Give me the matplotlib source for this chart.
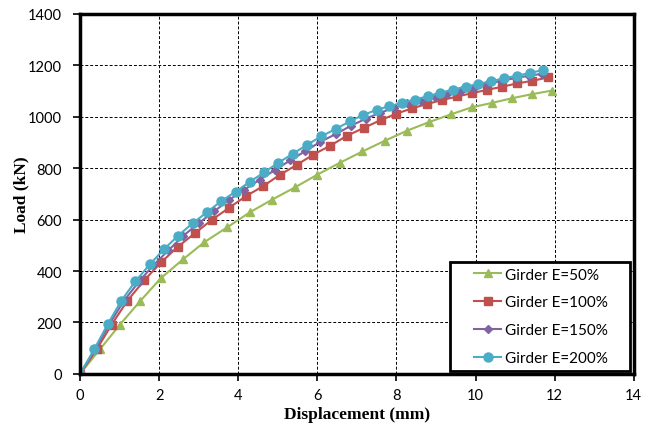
import matplotlib
matplotlib.use('Agg')
import matplotlib.pyplot as plt
import matplotlib.patches as patches

# Girder E=50%
x50 = [0, 0.5, 1.01, 1.52, 2.04, 2.6, 3.14, 3.72, 4.30, 4.86, 5.43, 6.0, 6.57, 7.14,
       7.71, 8.27, 8.82, 9.37, 9.91, 10.42, 10.92, 11.43, 11.94]
y50 = [0, 95, 192, 283, 372, 445, 512, 570, 629, 678, 725, 775, 821, 865,
       907, 946, 979, 1009, 1037, 1054, 1072, 1088, 1102]

# Girder E=100%
x100 = [0, 0.42, 0.8, 1.2, 1.63, 2.05, 2.47, 2.91, 3.34, 3.77, 4.20, 4.63, 5.05, 5.48,
        5.90, 6.33, 6.76, 7.18, 7.6, 8.0, 8.40, 8.78, 9.16, 9.54, 9.92, 10.30, 10.68,
        11.06, 11.44, 11.84]
y100 = [0, 95, 192, 285, 365, 434, 494, 548, 600, 646, 692, 730, 774, 813,
        853, 888, 927, 957, 987, 1012, 1033, 1050, 1065, 1079, 1092, 1105, 1117,
        1130, 1140, 1153]

# Girder E=150%
x150 = [0, 0.38, 0.74, 1.1, 1.48, 1.85, 2.23, 2.61, 3.0, 3.4, 3.77, 4.15, 4.55, 4.93,
        5.31, 5.69, 6.07, 6.47, 6.85, 7.22, 7.58, 7.94, 8.28, 8.62, 8.97, 9.29, 9.63,
        9.95, 10.29, 10.65, 11.02, 11.36, 11.68]
y150 = [0, 96, 193, 282, 357, 422, 480, 537, 586, 633, 677, 716, 756, 793,
        830, 866, 902, 933, 965, 992, 1015, 1035, 1052, 1062, 1078, 1089, 1101,
        1113, 1126, 1140, 1151, 1160, 1167]

# Girder E=200%
x200 = [0, 0.36, 0.70, 1.04, 1.40, 1.77, 2.12, 2.48, 2.85, 3.21, 3.57, 3.94, 4.30, 4.66,
        5.01, 5.38, 5.73, 6.1, 6.47, 6.82, 7.16, 7.50, 7.82, 8.14, 8.47, 8.79, 9.10,
        9.42, 9.75, 10.07, 10.39, 10.72, 11.06, 11.39, 11.71]
y200 = [0, 96, 193, 284, 360, 427, 484, 538, 586, 629, 672, 709, 748, 784,
        821, 856, 890, 924, 953, 982, 1007, 1027, 1041, 1054, 1067, 1080, 1092,
        1106, 1117, 1128, 1138, 1150, 1160, 1171, 1182]

fig = plt.figure(figsize=(6.56, 4.39), dpi=100)
ax = fig.add_axes([0.122, 0.146, 0.844, 0.820])

ax.plot(x50, y50, '-^', color='#9BBB59', markersize=6, linewidth=1.5, label='Girder E=50%')
ax.plot(x100, y100, '-s', color='#C0504D', markersize=6, linewidth=1.5, label='Girder E=100%')
ax.plot(x150, y150, '-D', color='#8064A2', markersize=4.5, linewidth=1.5, label='Girder E=150%')
ax.plot(x200, y200, '-o', color='#4BACC6', markersize=6.5, linewidth=1.5, label='Girder E=200%')

ax.set_xlim(0, 14)
ax.set_ylim(0, 1400)
ax.set_xticks(range(0, 15, 2))
ax.set_yticks(range(0, 1401, 200))
ax.grid(True, color='black', linestyle=(0, (3, 2)), linewidth=0.7)
ax.set_axisbelow(True)

for s in ax.spines.values():
    s.set_linewidth(2.5)
    s.set_color('black')

ax.tick_params(direction='out', length=5, width=1.2, labelsize=10.5)
ax.tick_params(axis='x', pad=5)
ax.tick_params(axis='y', pad=8)
for lbl in ax.get_xticklabels() + ax.get_yticklabels():
    lbl.set_family('Lato')

ax.set_xlabel('Displacement (mm)', family='Liberation Serif', fontweight='bold', fontsize=12.5, labelpad=3)
ax.set_ylabel('Load (kN)', family='Liberation Serif', fontweight='bold', fontsize=12.5, labelpad=-1)

# legend box (drawn separately to get the wide Excel-style padding)
ax.add_patch(patches.Rectangle((0.668, 0.008), 0.325, 0.303, transform=ax.transAxes,
                               facecolor='white', edgecolor='black', linewidth=2, zorder=5))
leg = ax.legend(loc='center', bbox_to_anchor=(0.832, 0.16), frameon=False,
                prop={'family': 'Lato', 'size': 11}, borderpad=0.2,
                labelspacing=0.9, handlelength=1.8, handletextpad=0.2)
leg.set_zorder(6)

fig.savefig('out.png', dpi=100)
